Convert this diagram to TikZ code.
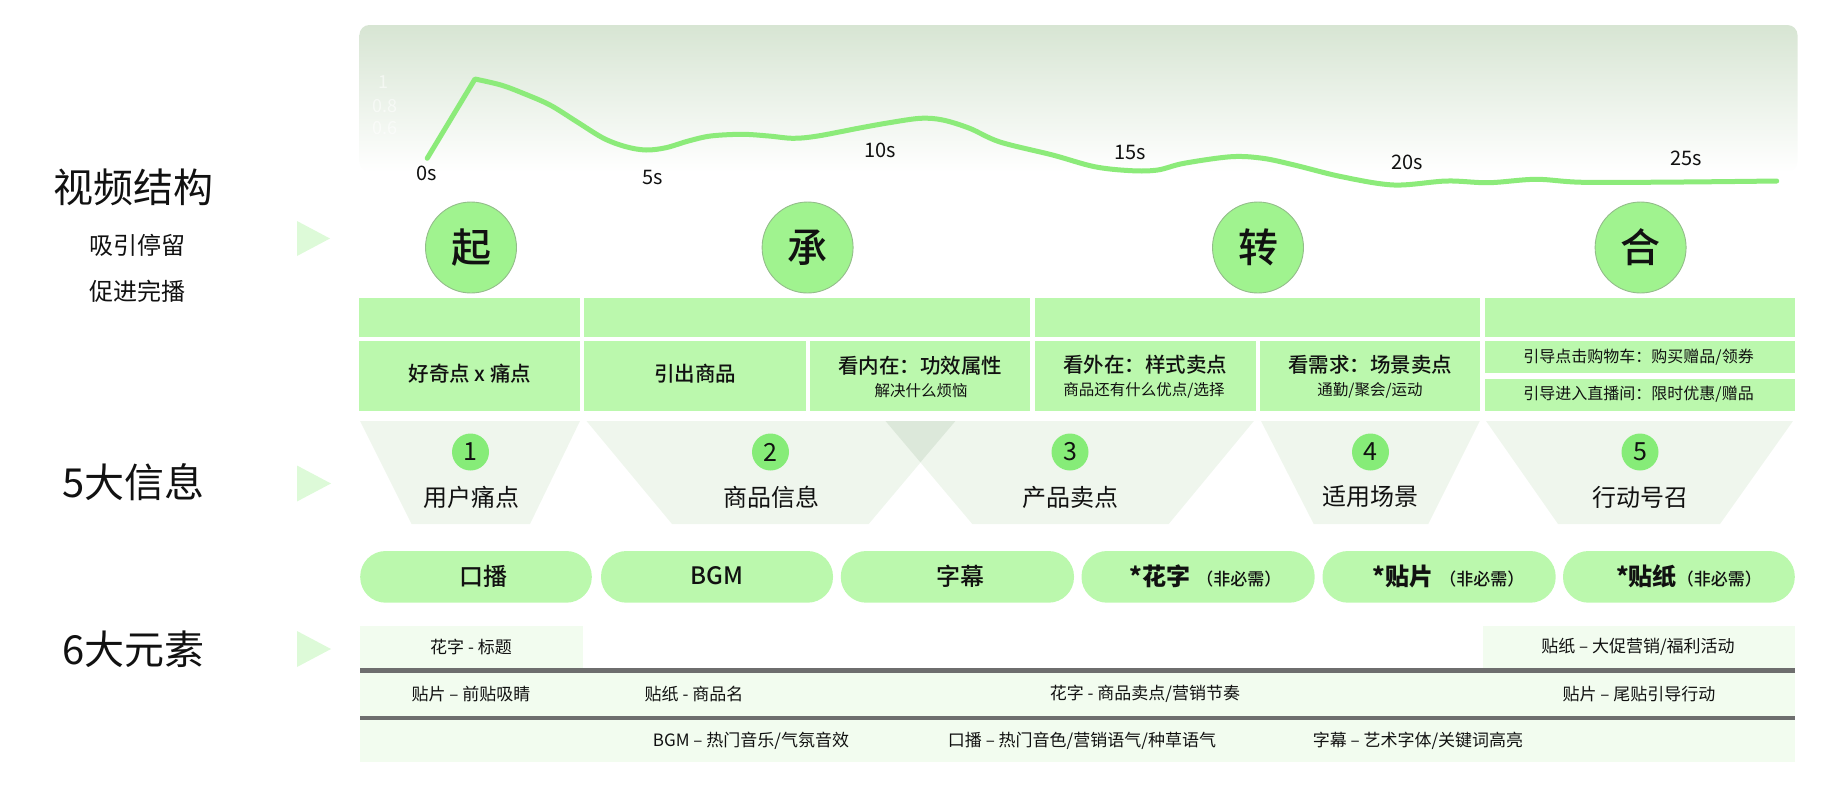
\documentclass[tikz,border=0pt]{standalone}
\usepackage{fontspec}
\setmainfont{Noto Sans CJK SC}
\newfontfamily\medf{Noto Sans CJK SC Medium}
\usetikzlibrary{fit}
\definecolor{bandg}{HTML}{BBF8AD}
\definecolor{circg}{HTML}{A0F38F}
\definecolor{circline}{HTML}{93BC8A}
\definecolor{numg}{HTML}{86EC78}
\definecolor{curveg}{HTML}{8CEB7A}
\definecolor{arrowg}{HTML}{DDFAD8}
\definecolor{rowg}{HTML}{F2FCEF}
\definecolor{funnelg}{HTML}{EFF6ED}
\definecolor{overlapg}{HTML}{DCE8DA}
\definecolor{divg}{HTML}{6E6E6E}
\definecolor{charttop}{HTML}{D7E5D3}
\definecolor{chartmid}{HTML}{EEF5EC}
\definecolor{ink}{HTML}{111111}
\newcommand\fsz[1]{\fontsize{#1}{#1}\selectfont}
\begin{document}
\begin{tikzpicture}[x=1pt,y=-1pt,
  every node/.style={inner sep=0pt, outer sep=0pt, text=ink},
  bandbox/.style={fill=bandg, draw=none},
  pillbox/.style={fill=bandg, draw=none, rounded corners=25.5pt},
  rowbox/.style={fill=rowg, draw=none},
  divbox/.style={fill=divg, draw=none},
  phase/.style={circle, fill=circg, draw=circline, line width=0.9pt, minimum size=91pt, font=\fsz{40}\medf},
  numc/.style={circle, fill=numg, minimum size=37pt, font=\fsz{25}},
  funnel/.style={fill=funnelg, draw=none},
  ptr/.style={fill=arrowg, draw=none},
  curve/.style={draw=curveg, line width=5pt, line cap=round, line join=round},
  tick/.style={font=\fsz{20}},
  biglbl/.style={font=\fsz{40}},
  sublbl/.style={font=\fsz{24}},
  celltxt/.style={font=\fsz{20.5}\medf},
  cellsub/.style={font=\fsz{15.5}},
  calltxt/.style={font=\fsz{16}},
  flbl/.style={font=\fsz{24}},
  pilltxt/.style={font=\fsz{24}\medf},
  rowtxt/.style={font=\fsz{17}},
  axislbl/.style={font=\fsz{18}, text=white, text opacity=0.55}
]
\useasboundingbox (0,0) rectangle (1824,788);

% chart background
\shade[top color=charttop, middle color=chartmid, bottom color=white, rounded corners=10pt]
  (359.4,25) rectangle (1797.5,172);
\node[axislbl] (ax1) at (383,82) {1};
\node[axislbl] (ax2) at (385,106) {0.8};
\node[axislbl] (ax3) at (385,128) {0.6};

% curve
\draw[curve] (427.2,158.3) -- plot[smooth, tension=0.55] coordinates {(475,79) (500.9,85) (523.2,93.3) (550,105) (576.8,121.7) (603.6,138.3) (625.9,146.7) (646,150) (666,147.7) (688.4,141) (710.7,136) (742,134.3) (768.7,136) (793.3,138.3) (817.8,136) (858,128.3) (889.3,122.7) (920.5,118.3) (942.8,120) (969.6,128.3) (1000,142) (1052.6,155) (1094.6,166.7) (1131.4,170.7) (1157.7,170) (1184,163.3) (1231.2,156.7) (1262.8,158.3) (1294.3,165) (1341.6,176.7) (1394,185) (1446.7,181) (1488.7,182.7) (1536,179.3) (1583.3,182.3) (1683,182) (1776.7,181)};

\node[tick] (t0) at (427,173) {0s};
\node[tick] (t5) at (653,177) {5s};
\node[tick] (t10) at (880,150) {10s};
\node[tick] (t15) at (1130,152) {15s};
\node[tick] (t20) at (1407,162) {20s};
\node[tick] (t25) at (1686,158) {25s};

% left labels
\node[biglbl] (vs) at (133,187) {视频结构};
\node[sublbl] (vs1) at (137,245) {吸引停留};
\node[sublbl] (vs2) at (137,291) {促进完播};
\node[biglbl] (info) at (133.5,482) {5大信息};
\node[biglbl] (elem) at (133.5,649) {6大元素};
\fill[ptr] (297,221) -- (330,238.5) -- (297,256) -- cycle;
\fill[ptr] (297,465.5) -- (331,483.5) -- (297,501.5) -- cycle;
\fill[ptr] (297,631) -- (331,649) -- (297,667) -- cycle;

% phase circles
\node[phase] (qi) at (471,247.5) {起};
\node[phase] (cheng) at (807.6,247.5) {承};
\node[phase] (zhuan) at (1258,247.5) {转};
\node[phase] (he) at (1640.6,247.5) {合};

% band row 1
\node[bandbox, fit={(359.4,298) (580.3,337)}] (b1) {};
\node[bandbox, fit={(584.4,298) (1030,337)}] (b2) {};
\node[bandbox, fit={(1035,298) (1480,337)}] (b3) {};
\node[bandbox, fit={(1484.5,298) (1795,337)}] (b4) {};

% band row 2
\node[bandbox, fit={(359.4,341) (580.3,411)}] (c1) {};
\node[bandbox, fit={(584.4,341) (805.8,411)}] (c2) {};
\node[bandbox, fit={(809.8,341) (1030,411)}] (c3) {};
\node[bandbox, fit={(1035,341) (1256,411)}] (c4) {};
\node[bandbox, fit={(1260,341) (1480,411)}] (c5) {};
\node[bandbox, fit={(1484.5,341) (1795,372.7)}] (c6a) {};
\node[bandbox, fit={(1484.5,379) (1795,411)}] (c6b) {};

\node[celltxt] (c1t) at (470,374) {好奇点 x 痛点};
\node[celltxt] (c2t) at (695,374) {引出商品};
\node[celltxt] (c3t) at (920,366) {看内在：功效属性};
\node[cellsub] (c3s) at (921,391) {解决什么烦恼};
\node[celltxt] (c4t) at (1145,365) {看外在：样式卖点};
\node[cellsub] (c4s) at (1144,390) {商品还有什么优点/选择};
\node[celltxt] (c5t) at (1370,365) {看需求：场景卖点};
\node[cellsub] (c5s) at (1370,390) {通勤/聚会/运动};
\node[calltxt] (c6at) at (1638.6,357.3) {引导点击购物车：购买赠品/领券};
\node[calltxt] (c6bt) at (1638.6,393.8) {引导进入直播间：限时优惠/赠品};

% funnels
\fill[funnel] (360,421) -- (580,421) -- (530,524) -- (411.6,524) -- cycle;
\fill[funnel] (586.5,421) -- (955.4,421) -- (868.7,524) -- (672,524) -- cycle;
\fill[funnel] (885.5,421) -- (1253.9,421) -- (1168.7,524) -- (972.3,524) -- cycle;
\fill[overlapg] (885.5,421) -- (955.4,421) -- (920.4,462.3) -- cycle;
\fill[funnel] (1261,421) -- (1479.8,421) -- (1428.3,524) -- (1313.7,524) -- cycle;
\fill[funnel] (1486,421) -- (1793,421) -- (1720,524) -- (1558,524) -- cycle;

\node[numc] (n1) at (470.5,452) {1};
\node[numc] (n2) at (770.5,452) {2};
\node[numc] (n3) at (1070,452) {3};
\node[numc] (n4) at (1370.5,452) {4};
\node[numc] (n5) at (1640,452) {5};
\node[flbl] (f1) at (471,497) {用户痛点};
\node[flbl] (f2) at (771,497) {商品信息};
\node[flbl] (f3) at (1070,497) {产品卖点};
\node[flbl] (f4) at (1370,497) {适用场景};
\node[flbl] (f5) at (1640,497) {行动号召};

% pills
\node[pillbox, fit={(360.2,551) (591.8,602.7)}] (p1) {};
\node[pillbox, fit={(601,551) (833,602.7)}] (p2) {};
\node[pillbox, fit={(840.8,551) (1074,602.7)}] (p3) {};
\node[pillbox, fit={(1081.5,551) (1314.7,602.7)}] (p4) {};
\node[pillbox, fit={(1322.5,551) (1555.7,602.7)}] (p5) {};
\node[pillbox, fit={(1563,551) (1794.8,602.7)}] (p6) {};
\node[pilltxt] (p1t) at (483,576) {口播};
\node[pilltxt] (p2t) at (717,576) {BGM};
\node[pilltxt] (p3t) at (960,576) {字幕};
\node[pilltxt] (p4t) at (1205.5,576) {\bfseries *花字\hspace{6pt}{\fsz{17}\mdseries\medf（非必需）}};
\node[pilltxt] (p5t) at (1448.5,576) {\bfseries *贴片\hspace{6pt}{\fsz{17}\mdseries\medf（非必需）}};
\node[pilltxt] (p6t) at (1689,576) {\bfseries *贴纸{\fsz{17}\mdseries\medf（非必需）}};

% element rows
\node[rowbox, fit={(360.2,626) (583,668.3)}] (r1a) {};
\node[rowbox, fit={(1483,626) (1794.8,668.3)}] (r1b) {};
\node[divbox, fit={(360.2,668.3) (1794.8,672.7)}] (d1) {};
\node[rowbox, fit={(360.2,672.7) (1794.8,715.7)}] (r2) {};
\node[divbox, fit={(360.2,715.7) (1794.8,720)}] (d2) {};
\node[rowbox, fit={(360.2,720) (1794.8,761.7)}] (r3) {};

\node[rowtxt] (e1) at (471,647) {花字 - 标题};
\node[rowtxt] (e2) at (1638,647) {贴纸 – 大促营销/福利活动};
\node[rowtxt] (e3) at (471,694) {贴片 – 前贴吸睛};
\node[rowtxt] (e4) at (694,694) {贴纸 - 商品名};
\node[rowtxt] (e5) at (1145,694) {花字 - 商品卖点/营销节奏};
\node[rowtxt] (e6) at (1639,694) {贴片 – 尾贴引导行动};
\node[rowtxt] (e7) at (751,741) {BGM – 热门音乐/气氛音效};
\node[rowtxt] (e8) at (1082,741) {口播 – 热门音色/营销语气/种草语气};
\node[rowtxt] (e9) at (1418,741) {字幕 – 艺术字体/关键词高亮};
\end{tikzpicture}
\end{document}
